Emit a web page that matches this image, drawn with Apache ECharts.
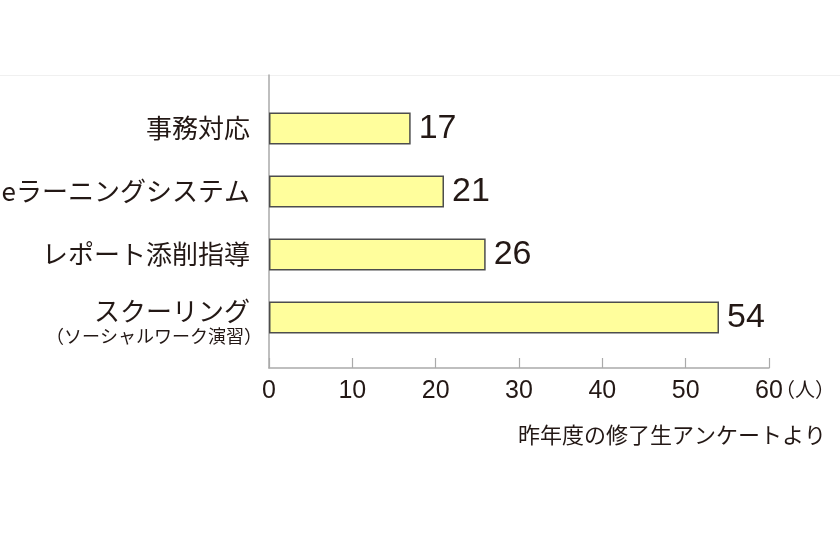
<!DOCTYPE html>
<html>
<head>
<meta charset="utf-8">
<script src="https://cdn.jsdelivr.net/npm/echarts@6/dist/echarts.min.js"></script>
<style>html,body{margin:0;padding:0;background:#fff;}#c{width:840px;height:540px;}</style>
</head>
<body>
<div id="c"></div>
<script>
const categories = ['事務対応', 'eラーニングシステム', 'レポート添削指導', 'スクーリング'];
const categoryNotes = ['', '', '', '（ソーシャルワーク演習）'];
const values = [17, 21, 26, 54];
const axisMin = 0, axisMax = 60, axisStep = 10;
const unitLabel = '（人）';
const sourceNote = '昨年度の修了生アンケートより';

const TXT = '#231815';
const JP = '"Noto Sans CJK JP", "Noto Sans", sans-serif';
const NUM = '"Liberation Sans", Arial, sans-serif';

const chart = echarts.init(document.getElementById('c'), null, {renderer: 'canvas'});
chart.setOption({
  animation: false,
  backgroundColor: '#fff',
  title: {
    text: sourceNote, right: 9, top: 419,
    textStyle: {fontFamily: JP, fontSize: 22, fontWeight: 'normal', color: TXT}
  },
  graphic: [{
    type: 'line', shape: {x1: 0, y1: 75.5, x2: 840, y2: 75.5},
    style: {stroke: '#f0f0f0', lineWidth: 1}, silent: true
  }],
  grid: [
    {left: 269, width: 500, top: 97, height: 252, outerBoundsMode: 'none', containLabel: false},
    {left: 269, width: 500, top: 75, height: 293, outerBoundsMode: 'none', containLabel: false}
  ],
  xAxis: [
    {gridIndex: 0, type: 'value', min: axisMin, max: axisMax, interval: axisStep, show: false},
    {gridIndex: 1, type: 'value', min: axisMin, max: axisMax, interval: axisStep,
     name: unitLabel, nameLocation: 'end', nameGap: 6, nameMoveOverlap: false,
     nameTextStyle: {fontFamily: JP, fontSize: 20, color: TXT, verticalAlign: 'top', padding: [11, 0, 0, 0]},
     axisLine: {show: true, lineStyle: {color: '#aaaaaa', width: 1.5}},
     axisTick: {show: true, inside: true, length: 10, lineStyle: {color: '#aaaaaa', width: 1.2}},
     axisLabel: {fontFamily: NUM, fontSize: 25, color: TXT, margin: 11},
     splitLine: {show: false}}
  ],
  yAxis: [
    {gridIndex: 0, type: 'category', data: categories, inverse: true,
     axisLine: {show: false}, axisTick: {show: false},
     axisLabel: {
       margin: 7, color: TXT, fontFamily: JP, fontSize: 26, align: 'right',
       formatter: function (v, i) {
         return categoryNotes[i] ? '{sp|}\n{m|' + v + '}\n{s|' + categoryNotes[i] + '}' : '{m|' + v + '}';
       },
       rich: {
         sp: {lineHeight: 10, fontSize: 8},
         m: {fontFamily: JP, fontSize: 26, color: TXT, lineHeight: 28, align: 'right', padding: [0, 12, 0, 0]},
         s: {fontFamily: JP, fontSize: 18, color: TXT, lineHeight: 22, align: 'right'}
       }
     }},
    {gridIndex: 1, type: 'value', min: 0, max: 1,
     axisLine: {show: true, lineStyle: {color: '#aaaaaa', width: 1.5}},
     axisTick: {show: false}, axisLabel: {show: false}, splitLine: {show: false}}
  ],
  series: [{
    type: 'bar', xAxisIndex: 0, yAxisIndex: 0, data: values, barWidth: 32,
    itemStyle: {color: '#FFFE9C', borderColor: '#4d4d4d', borderWidth: 1.5},
    label: {show: true, position: 'right', distance: 8, fontFamily: NUM, fontSize: 34, color: TXT}
  }]
});
</script>
</body>
</html>
